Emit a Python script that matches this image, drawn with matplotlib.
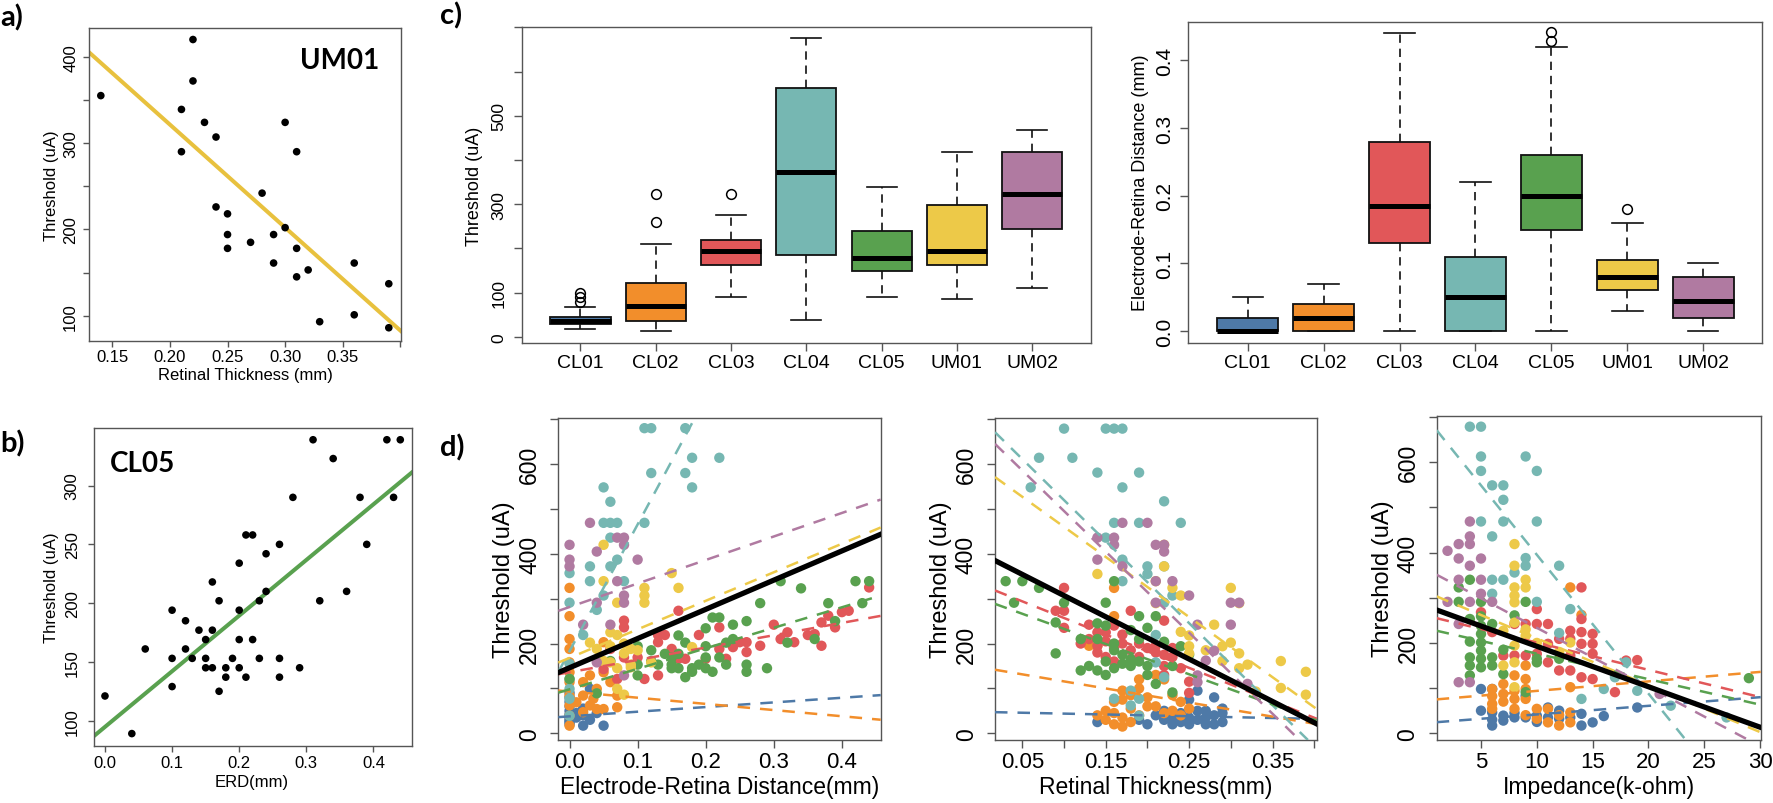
import matplotlib
matplotlib.use('Agg')
import matplotlib.pyplot as plt
import numpy as np

plt.rcParams['font.family'] = ['Liberation Sans', 'DejaVu Sans']

# ---------------- DATA ----------------
groups = ['CL01', 'CL02', 'CL03', 'CL04', 'CL05', 'UM01', 'UM02']
colors = ['#4E79A7', '#F28E2B', '#E15759', '#76B7B2', '#59A14F', '#EDC948', '#B07AA1']

# panel a: UM01 retinal thickness vs threshold
um01_rt = [0.14, 0.22, 0.22, 0.21, 0.21, 0.23, 0.24, 0.30, 0.31, 0.28, 0.24, 0.25, 0.25,
           0.25, 0.27, 0.29, 0.30, 0.29, 0.31, 0.31, 0.32, 0.36, 0.39, 0.33, 0.36, 0.39]
um01_thr = [355, 420, 372, 339, 290, 324, 307, 324, 290, 242, 226, 218, 194,
            178, 185, 194, 202, 161, 178, 145, 153, 161, 137, 93, 101, 86]
um01_fit = (560.0, -1193.0)   # intercept, slope

# panel b: CL05 ERD vs threshold
cl05_erd = [0.00, 0.04, 0.06, 0.10, 0.10, 0.10, 0.12, 0.12, 0.13, 0.14, 0.15, 0.15, 0.15,
            0.16, 0.16, 0.16, 0.17, 0.17, 0.18, 0.18, 0.19, 0.20, 0.20, 0.20, 0.20, 0.21,
            0.21, 0.22, 0.22, 0.23, 0.23, 0.24, 0.24, 0.26, 0.26, 0.26, 0.28, 0.29, 0.31,
            0.32, 0.34, 0.36, 0.38, 0.39, 0.42, 0.43, 0.44]
cl05_thr = [121, 89, 161, 194, 153, 129, 185, 161, 153, 177, 169, 153, 145,
            218, 177, 145, 202, 125, 145, 137, 153, 234, 194, 169, 145, 137,
            258, 258, 169, 202, 153, 242, 210, 250, 153, 137, 290, 145, 339,
            202, 323, 210, 290, 250, 339, 290, 339]
cl05_fit = (94.7, 473.4)

# panel c: box statistics (whislo, q1, median, q3, whishi) and outliers
thr_box = [(17, 29, 36, 45, 67), (14, 36, 70, 122, 210), (91, 162, 195, 219, 275),
           (37, 186, 372, 564, 677), (91, 150, 178, 239, 339), (86, 162, 195, 298, 419),
           (110, 244, 323, 419, 468)]
thr_out = [[78, 89, 100], [259, 324], [324], [], [], [], []]
erd_box = [(0, 0, 0, 0.02, 0.05), (0, 0, 0.02, 0.04, 0.07), (0, 0.13, 0.185, 0.28, 0.44),
           (0, 0, 0.05, 0.11, 0.22), (0, 0.15, 0.20, 0.26, 0.42), (0.03, 0.061, 0.08, 0.105, 0.16),
           (0, 0.02, 0.045, 0.08, 0.10)]
erd_out = [[], [], [], [], [0.429, 0.442], [0.18], []]

# panel d1: ERD vs threshold per array
d1_CL01 = [(0, 20), (0, 28), (0, 33), (0, 38), (0, 42), (0, 50), (0, 60), (0, 80), (0, 90),
           (0.01, 35), (0.01, 45), (0.02, 17), (0.02, 40), (0.03, 99), (0.03, 30), (0.04, 45),
           (0.05, 17), (0, 25), (0, 70), (0.02, 55)]
d1_CL02 = [(0, 324), (0, 261), (0, 210), (0, 188), (0, 158), (0, 136), (0, 114), (0, 84), (0, 62),
           (0, 39), (0, 17), (0.02, 114), (0.02, 84), (0.03, 62), (0.03, 129), (0.04, 54), (0.04, 99),
           (0.05, 136), (0.05, 54), (0.06, 114), (0.07, 84), (0.07, 58), (0.05, 203), (0.02, 47),
           (0.01, 69), (0.035, 77)]
d1_CL03 = [(0.08, 251), (0.08, 236), (0.08, 169), (0.06, 188), (0.05, 143), (0.07, 121), (0.10, 169),
           (0.11, 121), (0.13, 129), (0.13, 219), (0.14, 219), (0.13, 203), (0.16, 273), (0.15, 188),
           (0.16, 166), (0.17, 166), (0.19, 219), (0.20, 166), (0.22, 236), (0.22, 188), (0.23, 166),
           (0.24, 192), (0.25, 203), (0.26, 203), (0.26, 181), (0.28, 195), (0.30, 242), (0.31, 210),
           (0.32, 225), (0.33, 203), (0.35, 219), (0.36, 221), (0.37, 195), (0.37, 247), (0.38, 262),
           (0.39, 236), (0.40, 270), (0.44, 325), (0.41, 273)]
d1_CL04 = [(0.11, 680), (0.12, 680), (0.17, 680), (0.18, 614), (0.22, 614), (0.12, 580), (0.17, 580),
           (0.18, 548), (0.05, 548), (0.06, 516), (0.05, 469), (0.06, 469), (0.07, 469), (0.11, 469),
           (0.06, 436), (0.07, 387), (0.06, 372), (0.03, 372), (0.0, 357), (0.03, 339), (0.08, 339),
           (0.05, 307), (0.0, 291), (0.04, 275), (0.02, 219), (0.0, 155), (0.0, 121), (0.0, 99),
           (0.0, 77), (0.0, 39)]
d1_CL05 = list(zip(cl05_erd, cl05_thr))
d1_UM01 = [(0.05, 420), (0.05, 339), (0.15, 357), (0.11, 324), (0.11, 307), (0.11, 291), (0.16, 324),
           (0.07, 291), (0.06, 225), (0.07, 219), (0.04, 188), (0.08, 200), (0.09, 188), (0.12, 158),
           (0.07, 99), (0.06, 158), (0.18, 192), (0.09, 147), (0.08, 178), (0.10, 185), (0.06, 194),
           (0.05, 161), (0.07, 145), (0.09, 153), (0.03, 202), (0.08, 86)]
d1_UM02 = [(0.0, 420), (0.0, 387), (0.0, 372), (0.03, 469), (0.04, 405), (0.07, 436), (0.08, 436),
           (0.08, 420), (0.10, 387), (0.07, 339), (0.08, 307), (0.08, 291), (0.04, 291), (0.02, 242),
           (0.06, 242), (0.04, 158), (0.08, 129)]
d1_fit_int = [37.7, 93, 136, 183, 98, 168, 281.4]
d1_fit_slope = [103.6, -137.6, 275, 2824, 457, 636, 524]
d1_all_fit = (146, 651)

# panel d2: retinal thickness vs threshold
d2_CL01 = [(0.14, 25), (0.19, 30), (0.20, 20), (0.21, 40), (0.22, 30), (0.23, 35), (0.24, 25),
           (0.24, 45), (0.25, 35), (0.25, 20), (0.26, 30), (0.26, 50), (0.26, 95), (0.27, 20),
           (0.27, 35), (0.28, 20), (0.28, 40), (0.28, 80), (0.29, 25), (0.29, 45), (0.29, 55),
           (0.25, 75), (0.22, 50), (0.23, 20), (0.27, 50)]
d2_CL02 = [(0.14, 40), (0.15, 30), (0.15, 50), (0.16, 20), (0.16, 45), (0.17, 15), (0.17, 35),
           (0.18, 25), (0.18, 55), (0.19, 40), (0.16, 70), (0.17, 95), (0.17, 75), (0.18, 85),
           (0.19, 100), (0.20, 80), (0.21, 60), (0.22, 45), (0.23, 50), (0.24, 40), (0.25, 55),
           (0.22, 120), (0.21, 130), (0.19, 120), (0.20, 60), (0.16, 324), (0.16, 261), (0.13, 195),
           (0.14, 195), (0.24, 70), (0.23, 85)]
d2_CL03 = [(0.10, 324), (0.09, 273), (0.10, 273), (0.10, 235), (0.13, 242), (0.14, 225), (0.15, 225),
           (0.16, 240), (0.18, 273), (0.22, 251), (0.12, 200), (0.13, 210), (0.14, 195), (0.15, 205),
           (0.16, 190), (0.17, 200), (0.18, 185), (0.19, 200), (0.20, 190), (0.21, 180), (0.22, 175),
           (0.23, 170), (0.22, 150), (0.22, 130), (0.15, 170), (0.14, 180), (0.16, 160), (0.25, 90),
           (0.25, 115), (0.24, 145), (0.21, 195), (0.19, 170), (0.17, 220), (0.23, 190)]
d2_CL04 = [(0.10, 679), (0.15, 679), (0.16, 679), (0.17, 679), (0.07, 614), (0.11, 614), (0.14, 581),
           (0.19, 581), (0.06, 548), (0.17, 548), (0.22, 517), (0.16, 469), (0.19, 469), (0.24, 469),
           (0.15, 436), (0.17, 387), (0.17, 339), (0.20, 372), (0.20, 355), (0.22, 372), (0.23, 307),
           (0.22, 291), (0.21, 219), (0.22, 125), (0.21, 158), (0.16, 77), (0.18, 95), (0.18, 62),
           (0.19, 77), (0.19, 39)]
d2_CL05 = [(0.03, 339), (0.05, 339), (0.07, 324), (0.04, 291), (0.10, 291), (0.09, 247), (0.09, 178),
           (0.12, 210), (0.15, 291), (0.16, 339), (0.19, 261), (0.20, 235), (0.21, 261), (0.22, 204),
           (0.24, 194), (0.23, 91), (0.12, 140), (0.13, 150), (0.14, 140), (0.15, 130), (0.15, 160),
           (0.16, 145), (0.17, 155), (0.18, 150), (0.19, 160), (0.20, 150), (0.17, 175), (0.16, 185),
           (0.14, 210), (0.15, 240), (0.19, 210), (0.18, 230), (0.20, 130), (0.21, 110), (0.25, 175),
           (0.23, 150), (0.14, 245), (0.16, 200), (0.18, 165)]
d2_UM01 = list(zip(um01_rt, um01_thr))
d2_UM02 = [(0.17, 469), (0.20, 469), (0.14, 436), (0.16, 436), (0.16, 420), (0.21, 420), (0.22, 420),
           (0.22, 405), (0.14, 387), (0.17, 372), (0.21, 339), (0.23, 339), (0.25, 307), (0.21, 291),
           (0.30, 291), (0.31, 291), (0.30, 242), (0.26, 242), (0.27, 162), (0.28, 184), (0.26, 129),
           (0.26, 114), (0.32, 110)]
d2_fit_int = [47.7, 147, 331, 702.4, 300, 594, 676]
d2_fit_slope = [-39, -314, -741, -1828, -674, -1340, -1807]
d2_all_fit = (401.2, -943.5)

# panel d3: impedance vs threshold
d3_CL01 = [(5, 98), (5, 50), (6, 98), (6, 46), (6, 17), (7, 39), (7, 28), (8, 35), (9, 83), (9, 35),
           (10, 39), (11, 57), (11, 35), (12, 50), (12, 32), (13, 35), (14, 43), (14, 17), (15, 24),
           (16, 38), (19, 57), (6, 30), (8, 45), (10, 25)]
d3_CL02 = [(13, 323), (6, 98), (6, 82), (6, 54), (7, 109), (7, 87), (8, 128), (8, 94), (8, 76), (8, 54),
           (9, 150), (9, 120), (9, 98), (9, 76), (10, 54), (10, 32), (11, 54), (11, 24), (12, 17),
           (13, 46), (13, 24), (13, 102), (14, 262), (6, 65), (7, 70), (9, 40), (12, 40)]
d3_CL03 = [(10, 275), (8, 242), (9, 242), (10, 242), (11, 242), (13, 227), (13, 209), (14, 323),
           (14, 253), (14, 224), (14, 198), (15, 220), (15, 198), (15, 176), (13, 172), (6, 224),
           (7, 172), (8, 172), (9, 172), (10, 176), (11, 157), (12, 139), (13, 139), (14, 124),
           (15, 120), (17, 91), (18, 161), (19, 162), (5, 268), (11, 198), (12, 209)]
d3_CL04 = [(4, 679), (5, 679), (5, 613), (9, 613), (5, 581), (10, 581), (6, 549), (7, 549), (7, 517),
           (5, 469), (7, 469), (10, 469), (6, 436), (6, 340), (7, 340), (6, 309), (9, 388), (9, 371),
           (8, 356), (12, 371), (10, 291), (13, 275), (12, 222), (16, 98), (17, 124), (18, 157),
           (19, 94), (22, 61), (14, 76), (27, 35)]
d3_CL05 = [(3, 323), (4, 340), (3, 291), (5, 291), (4, 253), (4, 203), (5, 259), (5, 238), (5, 220),
           (5, 201), (5, 183), (5, 165), (5, 146), (4, 168), (4, 150), (4, 128), (6, 242), (6, 168),
           (6, 150), (7, 185), (7, 131), (8, 261), (9, 291), (10, 165), (10, 157), (12, 165), (9, 91),
           (29, 122)]
d3_UM01 = [(8, 419), (8, 371), (9, 340), (9, 323), (8, 323), (8, 305), (8, 290), (7, 227), (8, 245),
           (8, 194), (9, 216), (8, 157), (8, 102), (13, 201), (9, 230), (10, 200), (7, 150), (12, 180)]
d3_UM02 = [(2, 404), (3, 419), (4, 469), (4, 436), (4, 419), (3, 387), (4, 371), (5, 387), (3, 340),
           (5, 340), (2, 291), (4, 291), (6, 291), (5, 309), (3, 242), (3, 113), (4, 113), (21, 87)]
d3_fit_int = [22.5, 72.8, 261, 702.7, 232.8, 313.7, 364.5]
d3_fit_slope = [1.91, 2.1, -6.03, -30.74, -5.65, -10.37, -13.1]
d3_all_fit = (282.2, -8.96)

# ---------------- FIGURE ----------------
W, H = 1774, 804
fig = plt.figure(figsize=(W / 100, H / 100), dpi=100)
SP = '#555555'


def add_ax(l, t, r, b):
    return fig.add_axes([l / W, 1 - b / H, (r - l) / W, (b - t) / H])


def ftext(x, y, s, **kw):
    fig.text(x / W, 1 - y / H, s, **kw)


def style(ax, ticklen, xsize, ysize, xpad, ypad):
    for sp in ax.spines.values():
        sp.set_color(SP)
        sp.set_linewidth(1.0)
    ax.tick_params(axis='both', direction='out', length=ticklen, width=1.0, color=SP)
    ax.tick_params(axis='x', labelsize=xsize, pad=xpad)
    ax.tick_params(axis='y', labelsize=ysize, pad=ypad)
    plt.setp(ax.get_yticklabels(), rotation=90, va='center', ha='right')


LABFONT = ['Lato', 'DejaVu Sans']

# ---- panel a ----
axa = add_ax(89.3, 29.3, 401, 341.7)
axa.set_xlim(0.13, 0.4006)
axa.set_ylim(71, 433)
b0, m = um01_fit
axa.axline((0, b0), slope=m, color='#E8C13E', lw=2.9, zorder=2)
axa.scatter(um01_rt, um01_thr, s=30, color='black', edgecolors='none', zorder=3)
axa.set_xticks([0.15, 0.20, 0.25, 0.30, 0.35, 0.40])
axa.set_xticklabels(['0.15', '0.20', '0.25', '0.30', '0.35', ''])
axa.set_yticks(list(range(100, 401, 50)))
axa.set_yticklabels(['100', '', '200', '', '300', '', '400'])
style(axa, 4.5, 12, 12, 1.5, 3.5)
axa.text(0.93, 0.9, 'UM01', transform=axa.transAxes, ha='right', va='center',
         fontsize=20, fontweight='bold', family=LABFONT)
ftext(245, 376, 'Retinal Thickness (mm)', ha='center', va='center', fontsize=12)
ftext(52, 186, 'Threshold (uA)', ha='center', va='center', rotation=90, fontsize=12)

# ---- panel b ----
axb = add_ax(93.7, 429, 411.7, 746.7)
axb.set_xlim(-0.0168, 0.457)
axb.set_ylim(78.7, 349)
b0, m = cl05_fit
axb.axline((0, b0), slope=m, color='#59A14F', lw=2.9, zorder=2)
axb.scatter(cl05_erd, cl05_thr, s=30, color='black', edgecolors='none', zorder=3)
axb.set_xticks([0.0, 0.1, 0.2, 0.3, 0.4])
axb.set_xticklabels(['0.0', '0.1', '0.2', '0.3', '0.4'])
axb.set_yticks([100, 150, 200, 250, 300])
axb.set_yticklabels(['100', '150', '200', '250', '300'])
style(axb, 4.5, 12, 12, 2.5, 5.5)
axb.text(0.05, 0.89, 'CL05', transform=axb.transAxes, ha='left', va='center',
         fontsize=20, fontweight='bold', family=LABFONT)
ftext(252, 783, 'ERD(mm)', ha='center', va='center', fontsize=12)
ftext(52, 588, 'Threshold (uA)', ha='center', va='center', rotation=90, fontsize=12)


# ---- panel c ----
def boxpanel(ax, box, out):
    stats = []
    for (lo, q1, med, q3, hi), fl in zip(box, out):
        stats.append(dict(whislo=lo, q1=q1, med=med, q3=q3, whishi=hi, fliers=fl))
    bp = ax.bxp(stats, positions=list(range(1, 8)), widths=0.8, capwidths=0.4,
                patch_artist=True, showfliers=True,
                boxprops=dict(edgecolor='#111111', linewidth=1.3),
                medianprops=dict(color='black', linewidth=3.6, solid_capstyle='butt'),
                whiskerprops=dict(color='#111111', linewidth=1.2, linestyle=(0, (5, 3.5))),
                capprops=dict(color='#111111', linewidth=1.2),
                flierprops=dict(marker='o', markerfacecolor='none', markeredgecolor='black',
                                markersize=7, markeredgewidth=1.1))
    for patch, c in zip(bp['boxes'], colors):
        patch.set_facecolor(c)
    ax.set_xlim(0.22, 7.78)
    ax.set_xticks(list(range(1, 8)))
    ax.set_xticklabels(groups)


axc1 = add_ax(521.7, 28, 1091, 344)
boxpanel(axc1, thr_box, thr_out)
axc1.set_ylim(-14, 701)
axc1.set_yticks(list(range(0, 701, 100)))
axc1.set_yticklabels(['0', '100', '', '300', '', '500', '', ''])
style(axc1, 5.5, 14, 12.5, 2.5, 5.5)
ftext(475, 186, 'Threshold (uA)', ha='center', va='center', rotation=90, fontsize=13)

axc2 = add_ax(1188.5, 22.7, 1762.5, 344)
boxpanel(axc2, erd_box, erd_out)
axc2.set_ylim(-0.0175, 0.4573)
axc2.set_yticks([0.0, 0.1, 0.2, 0.3, 0.4])
axc2.set_yticklabels(['0.0', '0.1', '0.2', '0.3', '0.4'])
style(axc2, 5.5, 14, 15, 2.5, 4.5)
ftext(1141, 183, 'Electrode-Retina Distance (mm)', ha='center', va='center', rotation=90, fontsize=13)

# ---- panel d ----
d_sets = [
    ([d1_CL01, d1_CL02, d1_CL03, d1_CL04, d1_CL05, d1_UM01, d1_UM02], d1_fit_int, d1_fit_slope, d1_all_fit),
    ([d2_CL01, d2_CL02, d2_CL03, d2_CL04, d2_CL05, d2_UM01, d2_UM02], d2_fit_int, d2_fit_slope, d2_all_fit),
    ([d3_CL01, d3_CL02, d3_CL03, d3_CL04, d3_CL05, d3_UM01, d3_UM02], d3_fit_int, d3_fit_slope, d3_all_fit),
]
d_boxes = [(558.3, 419.3, 880.7, 741), (995, 419.3, 1316.7, 741), (1436.7, 417.3, 1760.7, 741)]
d_xlims = [(-0.0165, 0.457), (0.0172, 0.403), (1.03, 30.06)]
d_xticks = [[0.0, 0.1, 0.2, 0.3, 0.4],
            [0.05, 0.10, 0.15, 0.20, 0.25, 0.30, 0.35, 0.40],
            [5, 10, 15, 20, 25, 30]]
d_xticklabels = [['0.0', '0.1', '0.2', '0.3', '0.4'],
                 ['0.05', '', '0.15', '', '0.25', '', '0.35', ''],
                 ['5', '10', '15', '20', '25', '30']]
d_xlabels = ['Electrode-Retina Distance(mm)', 'Retinal Thickness(mm)', 'Impedance(k-ohm)']

for i, (pts_list, fint, fslope, allfit) in enumerate(d_sets):
    l, t, r, b = d_boxes[i]
    ax = add_ax(l, t, r, b)
    ax.set_xlim(*d_xlims[i])
    ax.set_ylim(-15, 702)
    for pts, c in zip(pts_list, colors):
        xs = [p[0] for p in pts]
        ys = [p[1] for p in pts]
        ax.scatter(xs, ys, s=56, color=c, edgecolors='none', zorder=2)
    for b0, m, c in zip(fint, fslope, colors):
        ax.axline((0, b0), slope=m, color=c, lw=1.8, linestyle=(0, (5, 4)), zorder=3)
    ax.axline((0, allfit[0]), slope=allfit[1], color='black', lw=3.8, zorder=4)
    ax.set_xticks(d_xticks[i])
    ax.set_xticklabels(d_xticklabels[i])
    ax.set_yticks(list(range(0, 701, 100)))
    ax.set_yticklabels(['0', '', '200', '', '400', '', '600', ''])
    style(ax, 5.8, 16, 16.5, 2.0, 6.5)
    ftext((l + r) / 2, 788, d_xlabels[i], ha='center', va='center', fontsize=16.5)
    ftext(l - 54, (t + b) / 2, 'Threshold (uA)', ha='center', va='center', rotation=90, fontsize=17)

# panel letters
for s, x, y in [('a)', 0, 4), ('b)', 0, 430), ('c)', 440, 2), ('d)', 440, 434)]:
    ftext(x, y, s, ha='left', va='top', fontsize=21, fontweight='bold', family=LABFONT)

fig.savefig('out.png', dpi=100)
